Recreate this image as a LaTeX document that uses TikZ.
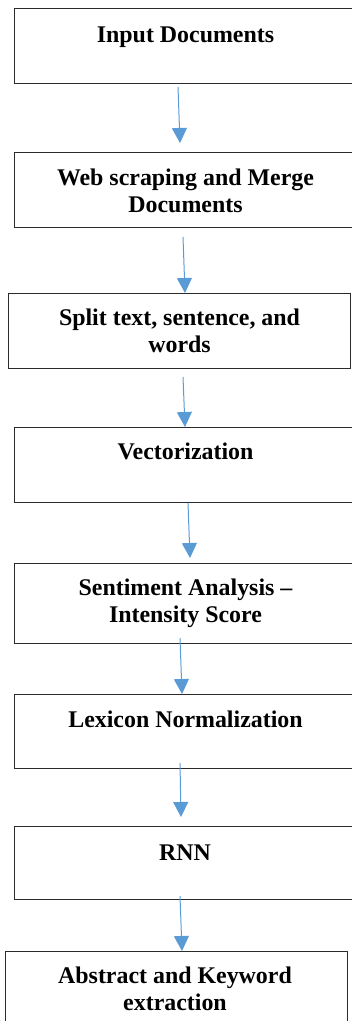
\documentclass[tikz,border=0pt]{standalone}
\usepackage{fontspec}
\setmainfont{Liberation Serif}
\usetikzlibrary{arrows.meta}
\definecolor{arrowblue}{HTML}{5B9BD5}
\definecolor{boxline}{HTML}{2B2B2B}
\tikzset{
  stepbox/.style={draw=boxline, line width=0.9pt, rectangle, inner sep=0pt, anchor=north west},
  steptext/.style={anchor=base, align=center, inner sep=0pt, font=\fontsize{23.9}{27}\selectfont\bfseries},
  flow/.style={draw=arrowblue, line width=1pt, -{Triangle[width=15pt,length=15pt]}}
}
\begin{document}
\begin{tikzpicture}[x=1pt,y=-1pt]
\useasboundingbox (0,0) rectangle (352,1021);
\clip (0,0) rectangle (352,1021);
% boxes
\node[stepbox, minimum width=343pt, minimum height=75pt] (b1) at (14,8) {};
\node[stepbox, minimum width=343pt, minimum height=75pt] (b2) at (14,152) {};
\node[stepbox, minimum width=342pt, minimum height=75pt] (b3) at (8,293) {};
\node[stepbox, minimum width=343pt, minimum height=75pt] (b4) at (14,427) {};
\node[stepbox, minimum width=343pt, minimum height=80pt] (b5) at (14,563) {};
\node[stepbox, minimum width=343pt, minimum height=74pt] (b6) at (14,694) {};
\node[stepbox, minimum width=343pt, minimum height=73pt] (b7) at (14,826) {};
\node[stepbox, minimum width=342pt, minimum height=90pt] (b8) at (5,951) {};
% texts (base anchor = baseline of the last line)
\node[steptext] (t1) at (185.5,42) {Input Documents};
\node[steptext] (t2) at (185.5,212) {Web scraping and Merge\\Documents};
\node[steptext] (t3) at (179.5,352) {Split text, sentence, and\\words};
\node[steptext] (t4) at (185.5,459) {Vectorization};
\node[steptext] (t5) at (185.5,622) {Sentiment Analysis –\\Intensity Score};
\node[steptext] (t6) at (185.5,727) {Lexicon Normalization};
\node[steptext] (t7) at (185,860) {RNN};
\node[steptext] (t8) at (175,1010) {Abstract and Keyword\\extraction};
% arrow end points
\coordinate (a1s) at (178,87);  \coordinate (a1e) at (180,143);
\coordinate (a2s) at (183,237); \coordinate (a2e) at (185,293);
\coordinate (a3s) at (183,377); \coordinate (a3e) at (185,427);
\coordinate (a4s) at (188,503); \coordinate (a4e) at (190,558);
\coordinate (a5s) at (180,638); \coordinate (a5e) at (182,694);
\coordinate (a6s) at (180,763); \coordinate (a6e) at (181,817);
\coordinate (a7s) at (180,896); \coordinate (a7e) at (182,951);
\draw[flow] (a1s) -- (a1e);
\draw[flow] (a2s) -- (a2e);
\draw[flow] (a3s) -- (a3e);
\draw[flow] (a4s) -- (a4e);
\draw[flow] (a5s) -- (a5e);
\draw[flow] (a6s) -- (a6e);
\draw[flow] (a7s) -- (a7e);
\end{tikzpicture}
\end{document}
